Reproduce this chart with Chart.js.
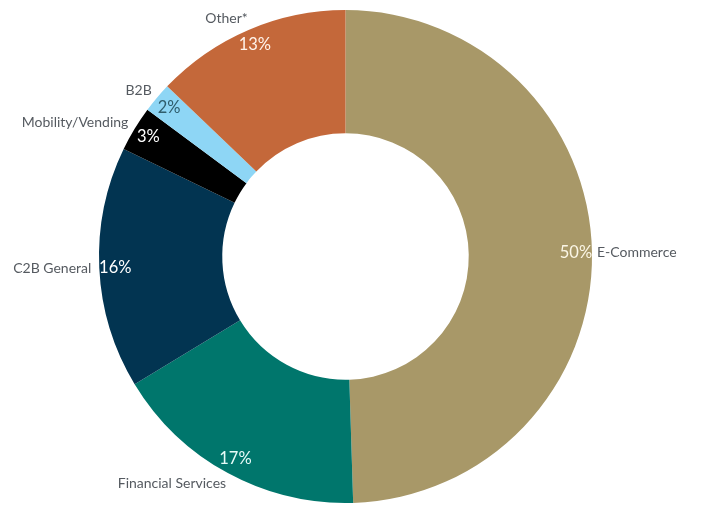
<!DOCTYPE html>
<html>
<head>
<meta charset="utf-8">
<script src="https://cdn.jsdelivr.net/npm/chart.js@4/dist/chart.umd.min.js"></script>
<style>
  html, body { margin: 0; padding: 0; background: #fff; }
  #grafico { display: block; }
</style>
</head>
<body>
<canvas id="grafico" width="701" height="528"></canvas>
<script>
// datos del grafico (en orden, desde arriba y en sentido horario)
const categorias = ["E-Commerce", "Financial Services", "C2B General", "Mobility/Vending", "B2B", "Other*"];
const valores = [50, 17, 16, 3, 2, 13];
const etiquetasPct = ["50%", "17%", "16%", "3%", "2%", "13%"];

const colores = ["#a89868", "#00766c", "#023451", "#000000", "#8ed6f5", "#c4683a"];
const coloresPct = ["#fbf6e6", "#e6fbf8", "#ffffff", "#ffffff", "#2f5d6c", "#fff3ea"];

// plugin para escribir los porcentajes y los nombres
const etiquetas = {
  id: "etiquetas",
  afterDatasetsDraw(chart) {
    const ctx = chart.ctx;
    const arcos = chart.getDatasetMeta(0).data;
    ctx.save();
    ctx.textBaseline = "middle";
    arcos.forEach((arco, i) => {
      const medio = (arco.startAngle + arco.endAngle) / 2;
      const cos = Math.cos(medio);
      const sin = Math.sin(medio);

      // porcentaje dentro del anillo
      const rPct = arco.outerRadius - 16;
      ctx.font = "16.5px Lato";
      ctx.fillStyle = coloresPct[i];
      ctx.textAlign = "center";
      ctx.fillText(etiquetasPct[i], arco.x + rPct * cos, arco.y + rPct * sin);

      // nombre afuera
      const rNom = arco.outerRadius + 12;
      ctx.font = "14px Lato";
      ctx.fillStyle = "#555a60";
      ctx.textAlign = cos < 0 ? "right" : "left";
      ctx.fillText(categorias[i], arco.x + rNom * cos + (cos < 0 ? 4 : -7), arco.y + rNom * sin);
    });
    ctx.restore();
  },
};

new Chart(document.getElementById("grafico"), {
  type: "doughnut",
  data: {
    labels: categorias,
    datasets: [
      {
        data: valores,
        backgroundColor: colores,
        borderWidth: 0,
      },
    ],
  },
  options: {
    responsive: false,
    animation: false,
    cutout: "50%",
    layout: { padding: { top: 10, bottom: 25, left: 0, right: 10 } },
    plugins: {
      legend: { display: false },
      tooltip: { enabled: false },
    },
  },
  plugins: [etiquetas],
});
</script>
</body>
</html>
